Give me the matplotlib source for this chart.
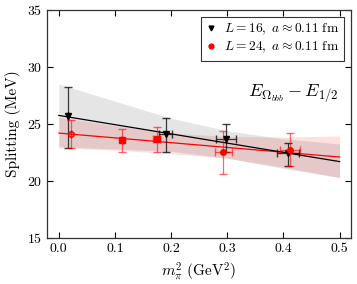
import numpy as np
import matplotlib
matplotlib.use("Agg")
import matplotlib.pyplot as plt

plt.rcParams['font.family'] = 'serif'
plt.rcParams['font.serif'] = ['cmr10']
plt.rcParams['mathtext.fontset'] = 'cm'
plt.rcParams['axes.formatter.use_mathtext'] = True

# L = 16 data
x16 = np.array([0.0165, 0.19, 0.298, 0.408])
y16 = np.array([25.7, 24.12, 23.7, 22.45])
y16_lo = np.array([22.93, 22.57, 22.57, 21.35])
y16_hi = np.array([28.2, 25.55, 24.97, 23.35])
x16_err = np.array([0.0, 0.012, 0.018, 0.019])

# L = 24 data
x24 = np.array([0.021, 0.113, 0.174, 0.293, 0.412])
y24 = np.array([24.12, 23.6, 23.65, 22.5, 22.7])
y24_lo = np.array([22.93, 22.57, 22.57, 20.6, 21.35])
y24_hi = np.array([25.35, 24.6, 24.75, 24.4, 24.2])
x24_err = np.array([0.0, 0.0, 0.006, 0.015, 0.018])
m24 = ['o', 's', 's', 'o', 'o']

# fits and error bands
band_x = np.array([0.0, 0.1, 0.2, 0.3, 0.4, 0.5])
fit16 = np.array([25.75, 24.94, 24.13, 23.32, 22.51, 21.7])
band16_hi = np.array([28.5, 27.0, 25.5, 24.4, 23.7, 23.25])
band16_lo = np.array([23.0, 22.8, 22.6, 22.0, 21.1, 20.3])
fit24 = np.array([24.2, 23.78, 23.36, 22.94, 22.52, 22.1])
band24_hi = np.array([25.6, 24.85, 24.2, 23.9, 23.85, 23.95])
band24_lo = np.array([22.9, 22.7, 22.4, 22.0, 21.2, 20.3])

fig = plt.figure(figsize=(3.57, 2.84), dpi=100)
ax = fig.add_axes([0.1317, 0.162, 0.851, 0.803])

ax.fill_between(band_x, band24_lo, band24_hi, color='red', alpha=0.12, lw=0)
ax.fill_between(band_x, band16_lo, band16_hi, color='black', alpha=0.1, lw=0)
ax.plot(band_x, fit24, color='red', lw=0.9)
ax.plot(band_x, fit16, color='black', lw=0.9)

ax.errorbar(x16, y16, yerr=[y16 - y16_lo, y16_hi - y16], xerr=x16_err,
            fmt='none', ecolor='black', elinewidth=0.9, capsize=3, alpha=0.75)
ax.plot(x16, y16, 'v', color='black', ms=4, ls='none')

ax.errorbar(x24, y24, yerr=[y24 - y24_lo, y24_hi - y24], xerr=x24_err,
            fmt='none', ecolor='red', elinewidth=0.9, capsize=3, alpha=0.6)
for i, (xi, yi, mk) in enumerate(zip(x24, y24, m24)):
    face = 'none' if i == 0 else 'red'
    ax.plot(xi, yi, mk, color='red', mfc=face, ms=4)

h1, = ax.plot([], [], 'v', color='black', ms=3.5)
h2, = ax.plot([], [], 'o', color='red', ms=3.5)
leg = ax.legend([h1, h2], [r'$L=16,\ a\approx0.11\ \mathrm{fm}$',
                           r'$L=24,\ a\approx0.11\ \mathrm{fm}$'],
                loc='upper right', fontsize=9.7, frameon=True, fancybox=False,
                handlelength=0.8, handletextpad=0.5, borderpad=0.4,
                labelspacing=0.2, borderaxespad=0.5)
leg.get_frame().set_edgecolor('black')
leg.get_frame().set_linewidth(0.8)

ax.text(0.417, 27.7, r'$E_{\Omega_{bbb}}-E_{1/2}$', fontsize=13, ha='center', va='center')

ax.set_xlim(-0.021, 0.52)
ax.set_ylim(15, 35)
ax.set_xticks([0.0, 0.1, 0.2, 0.3, 0.4, 0.5])
ax.set_xticklabels(['0.0', '0.1', '0.2', '0.3', '0.4', '0.5'])
ax.set_yticks([15, 20, 25, 30, 35])
ax.tick_params(direction='in', top=True, right=True, length=4, labelsize=10)
ax.set_xlabel(r'$m_\pi^2$ (GeV$^2$)', fontsize=11)
ax.set_ylabel('Splitting (MeV)', fontsize=11)
for s in ax.spines.values():
    s.set_linewidth(0.9)
    s.set_color('#333333')

fig.savefig('out.png', dpi=100)
